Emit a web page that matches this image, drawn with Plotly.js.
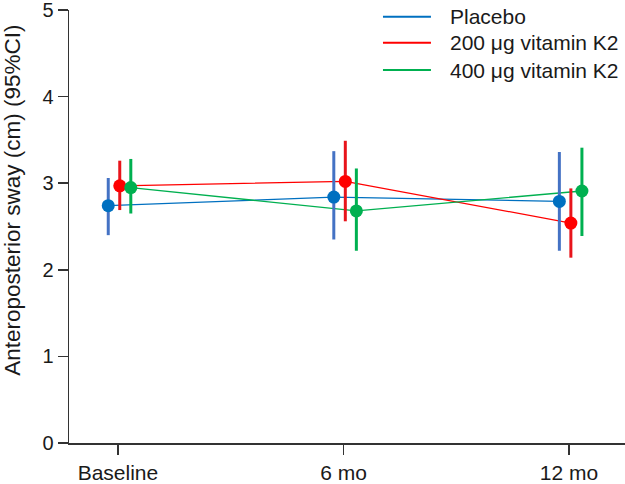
<!DOCTYPE html>
<html>
<head>
<meta charset="utf-8">
<script src="https://cdn.plot.ly/plotly-3.0.1.min.js"></script>
<style>html,body{margin:0;padding:0;background:#fff;}#chart{width:625px;height:484px;}</style>
</head>
<body>
<div id="chart"></div>
<script>
// ---- data ----
var categories = ['Baseline', '6 mo', '12 mo'];
var seriesNames = ['Placebo', '200 \u03bcg vitamin K2', '400 \u03bcg vitamin K2'];
var placeboMean  = [2.74, 2.84, 2.79];
var placeboLow   = [2.40, 2.35, 2.22];
var placeboHigh  = [3.06, 3.37, 3.36];
var k2_200Mean   = [2.97, 3.02, 2.54];
var k2_200Low    = [2.69, 2.56, 2.14];
var k2_200High   = [3.26, 3.49, 2.94];
var k2_400Mean   = [2.95, 2.68, 2.91];
var k2_400Low    = [2.65, 2.22, 2.39];
var k2_400High   = [3.28, 3.17, 3.41];
var yTicks = [0, 1, 2, 3, 4, 5];

// ---- styling ----
var lineColors = ['#0070C0', '#FF0000', '#00B050'];
var barColors  = ['#4472C4', '#E8141B', '#00B050'];
var dodge = [-0.043, 0.008, 0.057];
var FONT = 'Liberation Sans, Arial, Helvetica, sans-serif';
var TXT = '#1a1a1a';

var means = [placeboMean, k2_200Mean, k2_400Mean];
var lows  = [placeboLow, k2_200Low, k2_400Low];
var highs = [placeboHigh, k2_200High, k2_400High];

var traces = [];
// connecting lines
for (var s = 0; s < 3; s++) {
  traces.push({
    type: 'scatter', mode: 'lines',
    x: categories.map(function (c, i) { return i + dodge[s]; }),
    y: means[s],
    name: seriesNames[s],
    showlegend: false,
    line: {color: lineColors[s], width: 1.3},
    hoverinfo: 'skip'
  });
}
// markers with CI bars
for (var s2 = 0; s2 < 3; s2++) {
  (function (s) {
    traces.push({
      type: 'scatter', mode: 'markers',
      x: categories.map(function (c, i) { return i + dodge[s]; }),
      y: means[s],
      showlegend: false,
      name: seriesNames[s],
      marker: {color: lineColors[s], size: 13},
      error_y: {
        type: 'data', symmetric: false,
        array: highs[s].map(function (h, i) { return h - means[s][i]; }),
        arrayminus: lows[s].map(function (l, i) { return means[s][i] - l; }),
        color: barColors[s], thickness: 3, width: 0
      }
    });
  })(s2);
}

// custom legend (long line samples like the reference)
var legendY = [0.9845, 0.9245, 0.8614];
var shapes = [];
var annotations = [];
for (var k = 0; k < 3; k++) {
  shapes.push({
    type: 'line', xref: 'paper', yref: 'paper',
    x0: 0.5647, x1: 0.651, y0: legendY[k], y1: legendY[k],
    line: {color: lineColors[k], width: 2}
  });
  annotations.push({
    text: seriesNames[k], xref: 'paper', yref: 'paper',
    x: 0.6817, y: legendY[k], xanchor: 'left', yanchor: 'middle',
    showarrow: false, font: {size: 21, family: FONT, color: TXT}
  });
}
annotations.push({
  text: 'Anteroposterior sway (cm) (95%CI)',
  xref: 'paper', yref: 'paper',
  x: -0.103, y: 0.561, xanchor: 'center', yanchor: 'middle',
  textangle: -90, showarrow: false,
  font: {size: 22.5, family: FONT, color: TXT}
});

var layout = {
  width: 625, height: 484,
  margin: {l: 69, r: 0, t: 10, b: 41},
  paper_bgcolor: '#fff', plot_bgcolor: '#fff',
  font: {family: FONT, size: 21, color: TXT},
  showlegend: false,
  xaxis: {
    range: [-0.217, 2.248],
    tickvals: categories.map(function (c, i) { return i; }),
    ticktext: categories,
    showgrid: false, zeroline: false,
    showline: true, linecolor: '#333', linewidth: 1.5,
    ticks: 'outside', ticklen: 10, tickwidth: 1.5, tickcolor: '#333',
    tickfont: {size: 21, family: FONT, color: TXT},
    ticklabeloverflow: 'allow'
  },
  yaxis: {
    range: [0, 5],
    tickvals: yTicks,
    showgrid: false, zeroline: false,
    showline: true, linecolor: '#333', linewidth: 1.5,
    ticks: 'outside', ticklen: 10, tickwidth: 1.5, tickcolor: '#333',
    tickfont: {size: 20, family: FONT, color: TXT},
    ticklabeloverflow: 'allow'
  },
  shapes: shapes,
  annotations: annotations
};

Plotly.newPlot('chart', traces, layout, {displayModeBar: false, staticPlot: true});
</script>
</body>
</html>
